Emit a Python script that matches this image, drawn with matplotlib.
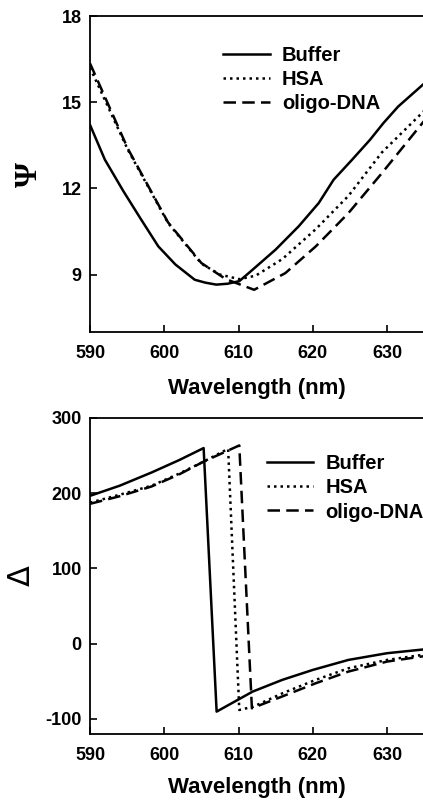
import matplotlib
matplotlib.use("Agg")
import matplotlib.pyplot as plt

plt.rcParams['font.family'] = ['Liberation Sans', 'DejaVu Sans']
plt.rcParams['font.weight'] = 'bold'
plt.rcParams['axes.unicode_minus'] = False

# ---- Psi data ----
psi_buf_x = [590, 592, 594.5, 596.8, 599.2, 601.5, 604.1, 605.5, 607, 608.5, 610.1, 611.9, 615, 618.1, 620.8, 622.8, 625.3, 627.7, 629.5, 631.5, 635]
psi_buf_y = [14.21, 13.0, 11.9, 10.95, 9.98, 9.35, 8.82, 8.72, 8.65, 8.68, 8.77, 9.17, 9.87, 10.68, 11.49, 12.3, 13.0, 13.69, 14.27, 14.85, 15.65]

psi_hsa_x = [590, 595.1, 600.5, 605, 607.5, 610.1, 612.3, 615.9, 620.4, 624.8, 629.3, 635]
psi_hsa_y = [16.2, 13.34, 10.8, 9.38, 9.0, 8.84, 8.96, 9.54, 10.58, 11.74, 13.25, 14.7]

psi_dna_x = [590, 595.1, 600.5, 605, 608.3, 612.1, 616.3, 620.4, 624.8, 629.3, 635]
psi_dna_y = [16.35, 13.38, 10.82, 9.4, 8.84, 8.47, 9.05, 9.98, 11.14, 12.53, 14.35]

# ---- Delta data ----
del_buf_x = [590, 594, 598.3, 602, 605.3, 607.05, 611.9, 615.9, 620, 624.8, 630, 635]
del_buf_y = [196.5, 210, 227.6, 244, 260, -90.2, -63.6, -48, -34.8, -21.5, -12.6, -7.5]

del_hsa_x = [590, 594, 598.3, 602, 605.3, 608.6, 610.1, 612, 615.9, 620.4, 624.8, 630, 635]
del_hsa_y = [187.5, 198, 210, 226, 242, 259, -88, -83.6, -65.9, -48, -32.6, -21.5, -14.5]

del_dna_x = [590, 594, 598.3, 602, 605.3, 610.1, 611.8, 615.9, 620.4, 624.8, 630, 635]
del_dna_y = [185.9, 196, 209, 225, 242, 263.5, -85.8, -70, -52.5, -37, -23.7, -16.5]

labels = ['Buffer', 'HSA', 'oligo-DNA']
xticks = [590, 600, 610, 620, 630]

fig = plt.figure(figsize=(4.23, 8.01), dpi=100)
ax1 = fig.add_axes([0.2128, 0.5855, 0.79, 0.3945])
ax2 = fig.add_axes([0.2128, 0.0836, 0.79, 0.3946])

styles = [dict(ls='-', lw=1.8), dict(ls=(0, (1, 1.6)), lw=1.8), dict(ls=(0, (5, 2.5)), lw=1.8)]

for ax, data in [(ax1, [(psi_buf_x, psi_buf_y), (psi_hsa_x, psi_hsa_y), (psi_dna_x, psi_dna_y)]),
                 (ax2, [(del_buf_x, del_buf_y), (del_hsa_x, del_hsa_y), (del_dna_x, del_dna_y)])]:
    for (x, y), st, lab in zip(data, styles, labels):
        ax.plot(x, y, color='black', label=lab, **st)
    ax.set_xlim(590, 635)
    ax.set_xticks(xticks)
    ax.spines['right'].set_visible(False)
    for s in ['left', 'bottom', 'top']:
        ax.spines[s].set_linewidth(1.3)
    ax.tick_params(direction='in', length=5, width=1.2, labelsize=13)
    ax.tick_params(axis='x', pad=9)
    ax.tick_params(axis='y', pad=6)

ax1.set_xlabel('Wavelength (nm)', fontsize=16, fontweight='bold', labelpad=12)
ax2.set_xlabel('Wavelength (nm)', fontsize=16, fontweight='bold', labelpad=10)

ax1.set_ylim(7, 18)
ax1.set_yticks([9, 12, 15, 18])
ax2.set_ylim(-120, 300)
ax2.set_yticks([-100, 0, 100, 200, 300])

ax1.set_ylabel('Ψ', fontsize=23, family=['Liberation Serif', 'DejaVu Serif'], fontweight='bold', labelpad=13)
ax2.set_ylabel('Δ', fontsize=22, family=['DejaVu Sans'], fontweight='normal', labelpad=7)

leg1 = ax1.legend(loc='upper left', bbox_to_anchor=(0.375, 0.93), frameon=False, fontsize=14.5,
                  handlelength=2.3, handletextpad=0.6, labelspacing=0.25, borderaxespad=0)
leg2 = ax2.legend(loc='upper left', bbox_to_anchor=(0.505, 0.91), frameon=False, fontsize=14.5,
                  handlelength=2.3, handletextpad=0.6, labelspacing=0.25, borderaxespad=0)

fig.savefig('out.png', dpi=100)
